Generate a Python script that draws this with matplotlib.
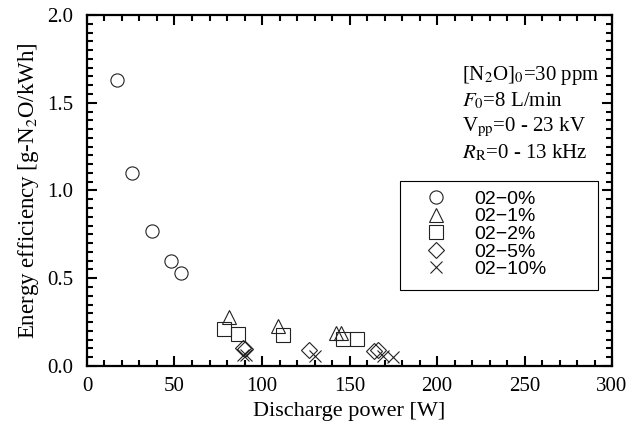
import matplotlib
matplotlib.use('Agg')
import matplotlib.pyplot as plt
from matplotlib.patches import Rectangle
from matplotlib.ticker import MultipleLocator

# data
o2_0_power = [17, 26, 37, 48, 54]
o2_0_eff = [1.63, 1.10, 0.77, 0.60, 0.53]

o2_1_power = [81, 109, 142, 145]
o2_1_eff = [0.28, 0.23, 0.19, 0.19]

o2_2_power = [78.5, 86, 112, 146, 154]
o2_2_eff = [0.21, 0.185, 0.175, 0.155, 0.155]

o2_5_power = [89, 90, 127, 164, 166]
o2_5_eff = [0.105, 0.095, 0.09, 0.085, 0.09]

o2_10_power = [89, 91, 130, 169, 175]
o2_10_eff = [0.065, 0.065, 0.055, 0.055, 0.05]

series = [
    (o2_0_power, o2_0_eff, 'o', '02\u22120%'),
    (o2_1_power, o2_1_eff, '^', '02\u22121%'),
    (o2_2_power, o2_2_eff, 's', '02\u22122%'),
    (o2_5_power, o2_5_eff, 'D', '02\u22125%'),
    (o2_10_power, o2_10_eff, 'x', '02\u221210%'),
]
marker_sizes = {'o': 9.5, '^': 10.5, 's': 9.5, 'D': 8, 'x': 8.5}

plt.rcParams['font.family'] = ['Liberation Serif', 'DejaVu Serif']
plt.rcParams['mathtext.fontset'] = 'stix'

fig = plt.figure(figsize=(6.43, 4.38), dpi=100)
ax = fig.add_axes([0.1353, 0.1644, 0.8165, 0.8014])

for x, y, m, label in series:
    ax.plot(x, y, linestyle='none', marker=m, markersize=marker_sizes[m],
            markerfacecolor='none', markeredgecolor='#222222',
            markeredgewidth=0.8, label=label)

ax.set_xlim(0, 300)
ax.set_ylim(0, 2.0)
ax.xaxis.set_major_locator(MultipleLocator(50))
ax.xaxis.set_minor_locator(MultipleLocator(10))
ax.yaxis.set_major_locator(MultipleLocator(0.5))
ax.yaxis.set_minor_locator(MultipleLocator(0.05))
ax.yaxis.set_major_formatter(plt.FormatStrFormatter('%.1f'))

ax.tick_params(which='both', direction='in', top=True, right=True,
               labelsize=15, width=1.5)
ax.tick_params(which='major', length=7)
ax.tick_params(which='minor', length=4)
ax.tick_params(axis='x', which='major', pad=8)
ax.tick_params(axis='y', which='major', pad=10)
for sp in ax.spines.values():
    sp.set_linewidth(1.6)

ax.set_xlabel('Discharge power [W]', fontsize=16, labelpad=4)
ax.set_ylabel('Energy efficiency [g-N$_2$O/kWh]', fontsize=16.5, labelpad=4)

notes = [r'[N$_2$O]$_0$=30 ppm', r'$F_0$=8 L/min',
         r'V$_{\rm pp}$=0 - 23 kV', r'$R_{\rm R}$=0 - 13 kHz']
for i, t in enumerate(notes):
    ax.text(0.715, 0.829 - i * 0.074, t, transform=ax.transAxes,
            fontsize=15, va='center', ha='left')

# legend box drawn as its own frame
ax.add_patch(Rectangle((0.596, 0.2165), 0.377, 0.3105, transform=ax.transAxes,
                       fill=False, edgecolor='black', linewidth=0.8))
leg = ax.legend(loc='upper left', bbox_to_anchor=(0.637, 0.501),
                borderaxespad=0, borderpad=0, frameon=False,
                labelspacing=0.0, handlelength=1.5, handletextpad=1.2,
                prop={'family': ['Liberation Sans Narrow', 'Liberation Sans'],
                      'size': 14})

fig.savefig('out.png', dpi=100)
